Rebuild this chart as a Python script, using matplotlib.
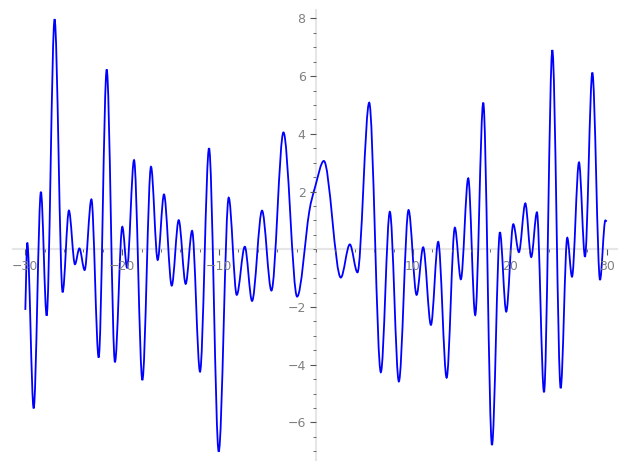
import matplotlib
matplotlib.use("Agg")
import matplotlib.pyplot as plt
from matplotlib.path import Path
from matplotlib.patches import PathPatch
from matplotlib.ticker import MultipleLocator, FixedLocator

# key points of the curve (extrema plus a few shoulder points)
x_pts = [-30.0, -29.8, -29.14, -28.39, -27.80, -26.98, -26.15, -25.5, -24.88, -24.42,
         -23.88, -23.18, -22.43, -21.60, -20.75, -19.99, -19.5, -18.78, -17.92, -17.03,
         -16.34, -15.69, -14.89, -14.17, -13.45, -12.79, -11.97, -11.04, -10.04, -9.01,
         -8.18, -7.35, -6.60, -5.57, -4.60, -3.36, -1.95, -0.7, -0.1, 0.81,
         2.56, 3.49, 4.28, 5.49, 6.69, 7.62, 8.55, 9.55, 10.38, 11.06,
         11.86, 12.61, 13.48, 14.33, 14.95, 15.71, 16.43, 17.26, 18.16, 18.98,
         19.63, 20.36, 20.94, 21.60, 22.21, 22.80, 23.53, 24.39, 25.25, 25.93,
         26.42, 27.14, 27.76, 28.52, 29.31, 29.86, 30.0]
y_pts = [-2.1, 0.23, -5.51, 1.99, -2.30, 7.97, -1.49, 1.34, -0.52, 0.03,
         -0.72, 1.73, -3.75, 6.23, -3.91, 0.78, -0.64, 3.09, -4.53, 2.86,
         -0.37, 1.90, -1.26, 1.01, -1.20, 0.64, -4.24, 3.50, -7.01, 1.79,
         -1.58, 0.09, -1.79, 1.34, -1.43, 4.05, -1.64, 1.3, 2.15, 3.06,
         -0.98, 0.17, -0.80, 5.08, -4.26, 1.30, -4.58, 1.36, -1.58, 0.07,
         -2.62, 0.26, -4.45, 0.75, -1.04, 2.46, -2.28, 5.08, -6.78, 0.59,
         -2.16, 0.87, -0.10, 1.59, -0.27, 1.28, -4.95, 6.90, -4.81, 0.40,
         -0.95, 3.01, -0.26, 6.12, -1.06, 1.0, 0.96]

x_major = [-30, -20, -10, 10, 20, 30]
y_major = [-6, -4, -2, 2, 4, 6, 8]


def smooth_path(xs, ys):
    # cubic hermite pieces drawn as bezier segments, flat at the extrema
    n = len(xs)
    slopes = []
    for i in range(n):
        if i == 0:
            s = (ys[1] - ys[0]) / (xs[1] - xs[0])
        elif i == n - 1:
            s = (ys[-1] - ys[-2]) / (xs[-1] - xs[-2])
        elif (ys[i] - ys[i - 1]) * (ys[i + 1] - ys[i]) <= 0:
            s = 0.0
        else:
            s = (ys[i + 1] - ys[i - 1]) / (xs[i + 1] - xs[i - 1])
        slopes.append(s)
    verts = [(xs[0], ys[0])]
    codes = [Path.MOVETO]
    for i in range(n - 1):
        h = xs[i + 1] - xs[i]
        verts.append((xs[i] + h / 3, ys[i] + slopes[i] * h / 3))
        verts.append((xs[i + 1] - h / 3, ys[i + 1] - slopes[i + 1] * h / 3))
        verts.append((xs[i + 1], ys[i + 1]))
        codes += [Path.CURVE4] * 3
    return Path(verts, codes)


fig = plt.figure(figsize=(6.27, 4.70), dpi=100)
ax = fig.add_axes([0.0203, 0.0213, 0.9637, 0.9574])

ax.add_patch(PathPatch(smooth_path(x_pts, y_pts), fill=False,
                       edgecolor="#0000ff", linewidth=1.3))

ax.set_xlim(-31.3, 31.06)
ax.set_ylim(-7.30, 8.29)

# axes crossing at the origin
for side in ["top", "right"]:
    ax.spines[side].set_visible(False)
ax.spines["left"].set_position(("data", 0))
ax.spines["bottom"].set_position(("data", 0))
for side in ["left", "bottom"]:
    ax.spines[side].set_color("#e6e6e6")
    ax.spines[side].set_linewidth(1.5)
    ax.spines[side].set_zorder(0)

ax.xaxis.set_major_locator(FixedLocator(x_major))
ax.yaxis.set_major_locator(FixedLocator(y_major))
ax.xaxis.set_minor_locator(MultipleLocator(2))
ax.yaxis.set_minor_locator(MultipleLocator(0.5))
ax.tick_params(which="major", length=4, width=0.8, color="#555555",
               labelcolor="#808080", labelsize=9)
ax.tick_params(which="minor", length=2, width=0.6, color="#555555")

fig.savefig("out.png", dpi=100)
